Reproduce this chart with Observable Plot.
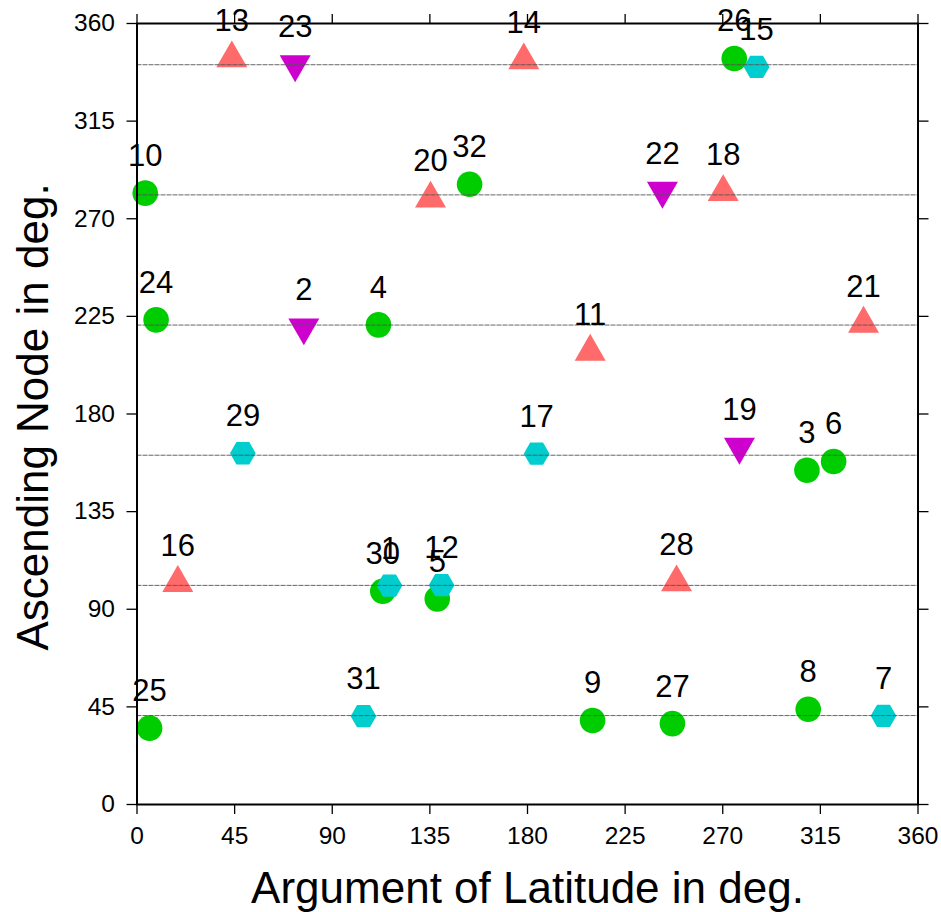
<!DOCTYPE html>
<html><head><meta charset="utf-8">
<script src="https://cdn.jsdelivr.net/npm/d3@7"></script>
<script src="https://cdn.jsdelivr.net/npm/@observablehq/plot@0.6"></script>
<style>body{margin:0;background:#fff;}</style>
</head><body><div id="chart"></div>
<script>
// Satellite numbers, argument of latitude (x), ascending node (y), marker kind
const prn    = [10, 13, 23, 20, 32, 14, 26, 15, 22, 18, 24, 2, 4, 11, 21, 29, 17, 19, 3, 6, 16, 30, 1, 5, 12, 28, 25, 31, 9, 27, 8, 7];
const argLat = [3.8, 43.7, 72.9, 135.3, 153.3, 178.3, 275.3, 285.6, 242.2, 270.2, 8.8, 76.9, 111.3, 208.9, 334.9, 48.8, 184.2, 277.7, 308.8, 321.1, 18.8, 113.3, 116.4, 138.4, 140.4, 248.7, 5.8, 104.4, 210.0, 246.8, 309.4, 344.1];
const ascNode = [281.8, 343.9, 341.2, 279.3, 285.9, 343.0, 343.9, 340.0, 282.9, 282.3, 223.4, 219.9, 221.1, 208.7, 221.6, 161.9, 161.7, 164.9, 154.1, 158.1, 102.1, 98.3, 100.9, 94.8, 101.1, 102.4, 35.2, 40.7, 38.7, 37.3, 43.9, 40.9];
const kind   = ["circle","up","down","up","circle","up","circle","hex","down","up","circle","down","circle","up","up","hex","hex","down","circle","circle","up","circle","hex","circle","hex","up","circle","hex","circle","circle","circle","hex"];
const planeNodes = [41, 101, 161, 221, 281, 341];
const tickValues = [0, 45, 90, 135, 180, 225, 270, 315, 360];
const xLabel = "Argument of Latitude in deg.";
const yLabel = "Ascending Node in deg.";
const kindColor = {up: "#FF6A6A", down: "#CD00CD", circle: "#00CD00", hex: "#00CDCD"};

const data = prn.map((p, i) => ({prn: p, u: argLat[i], node: ascNode[i], kind: kind[i]}));

const triDown = {
  draw(ctx, size) {
    const y = -Math.sqrt(size / (Math.sqrt(3) * 3));
    ctx.moveTo(0, -y * 2);
    ctx.lineTo(Math.sqrt(3) * y, y);
    ctx.lineTo(-Math.sqrt(3) * y, y);
    ctx.closePath();
  }
};
const hexFlat = {
  draw(ctx, size) {
    const R = Math.sqrt(size * 2 / (3 * Math.sqrt(3)));
    for (let k = 0; k < 6; k++) {
      const a = k * Math.PI / 3;
      const px = R * Math.cos(a), py = R * Math.sin(a);
      if (k === 0) ctx.moveTo(px, py); else ctx.lineTo(px, py);
    }
    ctx.closePath();
  }
};

const font = "'Liberation Sans', Arial, Helvetica, sans-serif";
const sel = k => data.filter(d => d.kind === k);

const chart = Plot.plot({
  width: 941,
  height: 912,
  marginLeft: 136.5,
  marginRight: 23.5,
  marginTop: 23,
  marginBottom: 108,
  style: {fontFamily: font, background: "#fff", color: "#000"},
  x: {domain: [0, 360], nice: false},
  y: {domain: [0, 360], nice: false},
  marks: [
    Plot.axisX({anchor: "bottom", ticks: tickValues, tickSize: 10, tickPadding: 12, fontSize: 24.5, label: null, strokeWidth: 1.3}),
    Plot.axisX({anchor: "top", ticks: tickValues, tickSize: 10, tickFormat: () => "", label: null, strokeWidth: 1.3}),
    Plot.axisY({anchor: "left", ticks: tickValues, tickSize: 10, tickPadding: 12, fontSize: 24.5, label: null, strokeWidth: 1.3}),
    Plot.axisY({anchor: "right", ticks: tickValues, tickSize: 10, tickFormat: () => "", label: null, strokeWidth: 1.3}),
    Plot.dot(sel("circle"), {x: "u", y: "node", r: 12.8, symbol: "circle", fill: kindColor.circle, stroke: "none"}),
    Plot.dot(sel("hex"), {x: "u", y: "node", r: 11.7, symbol: hexFlat, fill: kindColor.hex, stroke: "none"}),
    Plot.dot(sel("up"), {x: "u", y: "node", r: 11.5, symbol: "triangle", fill: kindColor.up, stroke: "none"}),
    Plot.dot(sel("down"), {x: "u", y: "node", r: 11.5, symbol: triDown, fill: kindColor.down, stroke: "none"}),
    Plot.ruleY(planeNodes, {stroke: "#555", strokeWidth: 0.9, strokeDasharray: "5,1"}),
    Plot.text(data, {x: "u", y: "node", text: d => String(d.prn), dy: -37, fontSize: 31, fill: "#000"}),
    Plot.text([xLabel], {frameAnchor: "bottom", textAnchor: "middle", lineAnchor: "bottom", dy: 98, fontSize: 44, fill: "#000"}),
    Plot.text([yLabel], {frameAnchor: "left", textAnchor: "middle", lineAnchor: "bottom", rotate: -90, dx: -89.5, dy: 3, fontSize: 44, fill: "#000"}),
    Plot.frame({stroke: "#000", strokeWidth: 2})
  ]
});
document.getElementById("chart").appendChild(chart);
</script>
</body></html>
